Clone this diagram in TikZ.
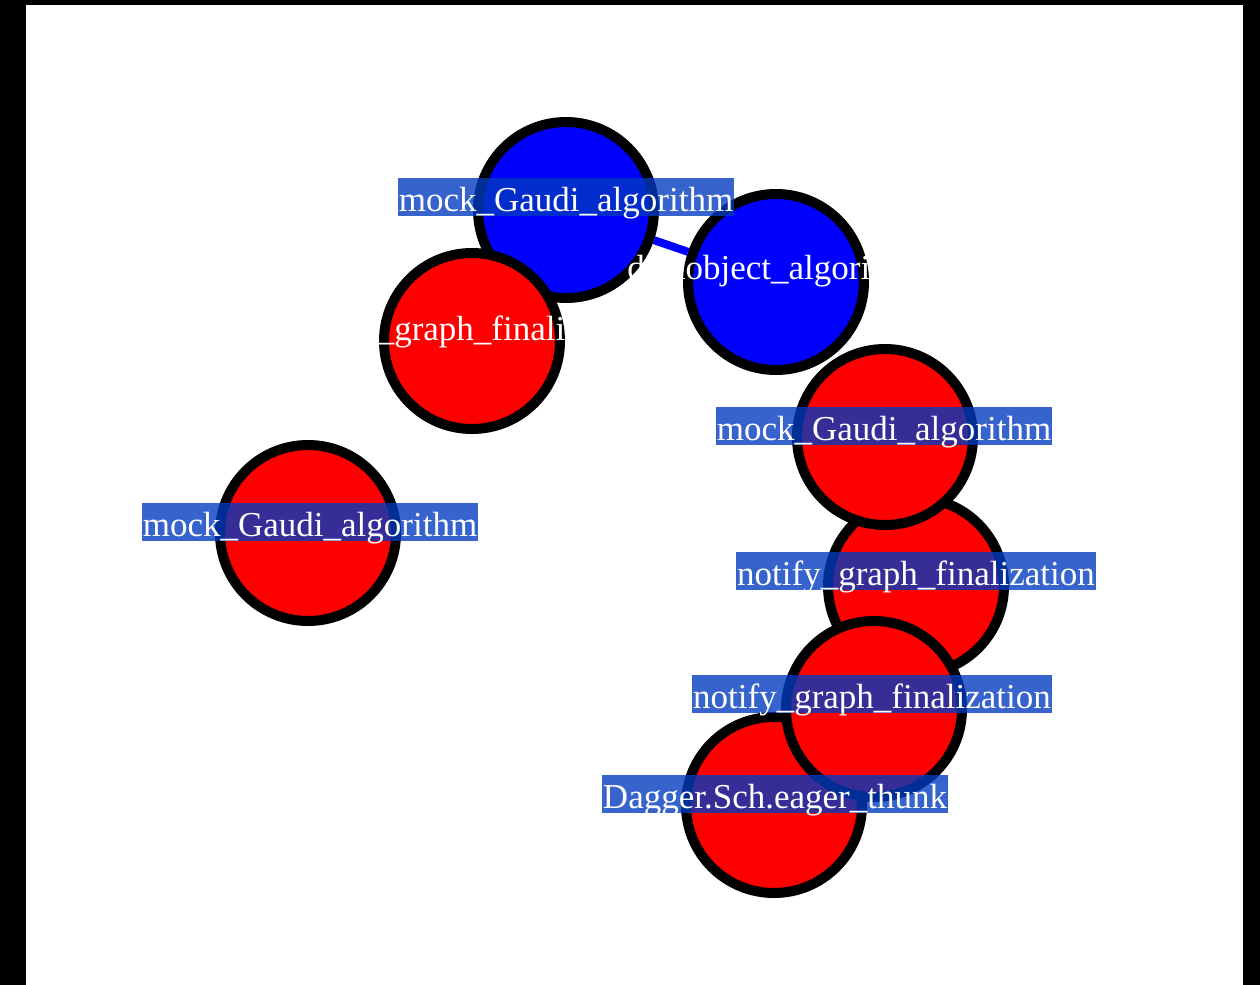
\documentclass[tikz,border=0pt]{standalone}
\usepackage{fontspec}
\setmainfont{Liberation Serif}
\usepackage{xcolor}
\usepackage{tikz}
\definecolor{tagblue}{RGB}{0,58,191}

\begin{document}
\begin{tikzpicture}[
  x=0.75pt, y=-0.75pt, font=\fontsize{26.25}{30}\selectfont,
  redalg/.style={circle, draw=black, line width=7.5pt, fill=red, minimum size=132pt, inner sep=0pt},
  bluealg/.style={redalg, fill=blue},
  tag/.style={fill=tagblue, fill opacity=0.79, text opacity=1, text=white, inner xsep=0.6pt, inner ysep=0pt,
              minimum height=28.5pt, text height=22pt, text depth=1pt},
  plaintag/.style={text=white, inner sep=0pt, text height=22pt, text depth=1pt},
  edge/.style={draw=blue, line width=6pt}]
  \useasboundingbox (0,0) rectangle (1260,985);
  \fill[black] (0,0) rectangle (1260,985);
  \fill[white] (26,5) rectangle (1243,985);
  \node[bluealg] (mga)  at (566,210) {};
  \node[redalg]  (ngf)  at (472,341) {};
  \node[bluealg] (doa)  at (776,282) {};
  \node[redalg]  (det)  at (774,805) {};
  \node[redalg]  (ngfb) at (916,586) {};
  \node[redalg]  (mgab) at (885,437) {};
  \node[redalg]  (ngfc) at (874,709) {};
  \node[redalg]  (mgac) at (308,533) {};
  \draw[edge] (mga)--(doa);
  \node[plaintag] (ngft) at (472,326) {notify\_graph\_finalization};
  \node[plaintag] (doat) at (776,265) {dataobject\_algorithm};
  \node[tag] (mgat)  at (566,197) {mock\_Gaudi\_algorithm};
  \node[tag] (mgabt) at (884,426) {mock\_Gaudi\_algorithm};
  \node[tag] (ngfbt) at (916,571) {notify\_graph\_finalization};
  \node[tag] (ngfct) at (872,694) {notify\_graph\_finalization};
  \node[tag] (dett)  at (775,794) {Dagger.Sch.eager\_thunk};
  \node[tag] (mgact) at (310,522) {mock\_Gaudi\_algorithm};
\end{tikzpicture}
\end{document}
